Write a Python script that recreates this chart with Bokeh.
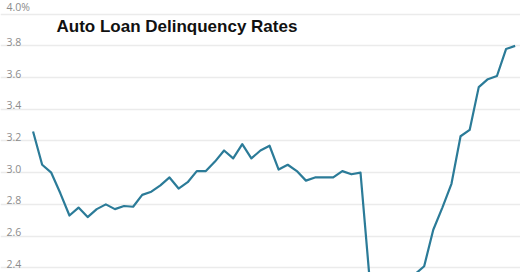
from bokeh.plotting import figure
from bokeh.models import Label, FixedTicker, Range1d
from bokeh.embed import file_html
from bokeh.resources import INLINE

# Data (points 37-42 fall below the visible area)
period = list(range(54))
rate = [3.26, 3.05, 3.00, 2.87, 2.73, 2.78, 2.72, 2.77, 2.80, 2.77,
        2.79, 2.785, 2.86, 2.88, 2.92, 2.97, 2.90, 2.94, 3.01, 3.01,
        3.07, 3.14, 3.09, 3.18, 3.09, 3.14, 3.17, 3.02, 3.05, 3.01,
        2.95, 2.97, 2.97, 2.97, 3.01, 2.99, 3.00, 2.33, 2.30, 2.28,
        2.29, 2.31, 2.36, 2.41, 2.64, 2.78, 2.93, 3.23, 3.27, 3.54,
        3.59, 3.61, 3.78, 3.80]
tick_values = [4.0, 3.8, 3.6, 3.4, 3.2, 3.0, 2.8, 2.6, 2.4]
tick_labels = ["4.0%", "3.8", "3.6", "3.4", "3.2", "3.0", "2.8", "2.6", "2.4"]
title_text = "Auto Loan Delinquency Rates"

p = figure(width=520, height=272, output_backend="svg", toolbar_location=None,
           min_border=0, min_border_left=0, min_border_right=0,
           min_border_top=0, min_border_bottom=0)
p.x_range = Range1d(-3.58, 53.59)
p.y_range = Range1d(2.3703, 4.0864)
p.outline_line_color = None
p.background_fill_color = "white"
p.border_fill_color = "white"
p.xaxis.visible = False
p.yaxis.visible = False
p.xgrid.grid_line_color = None
p.ygrid.ticker = FixedTicker(ticks=tick_values)
p.ygrid.grid_line_color = "#ebebeb"
p.ygrid.grid_line_width = 1.5

p.line(period, rate, line_color="#2b7b98", line_width=2.2, line_join="round")

for v, t in zip(tick_values, tick_labels):
    p.add_layout(Label(x=6, y=v, x_units="screen", y_units="data", text=t,
                       text_font="Open Sans", text_font_size="10.5px",
                       text_color="#8c8c8c", text_baseline="bottom",
                       y_offset=0))

p.add_layout(Label(x=56, y=246, x_units="screen", y_units="screen",
                   text=title_text, text_font="Liberation Sans",
                   text_font_style="bold", text_font_size="17px",
                   text_color="#111111", text_baseline="middle"))

open("out.html", "w").write(file_html(p, INLINE))
